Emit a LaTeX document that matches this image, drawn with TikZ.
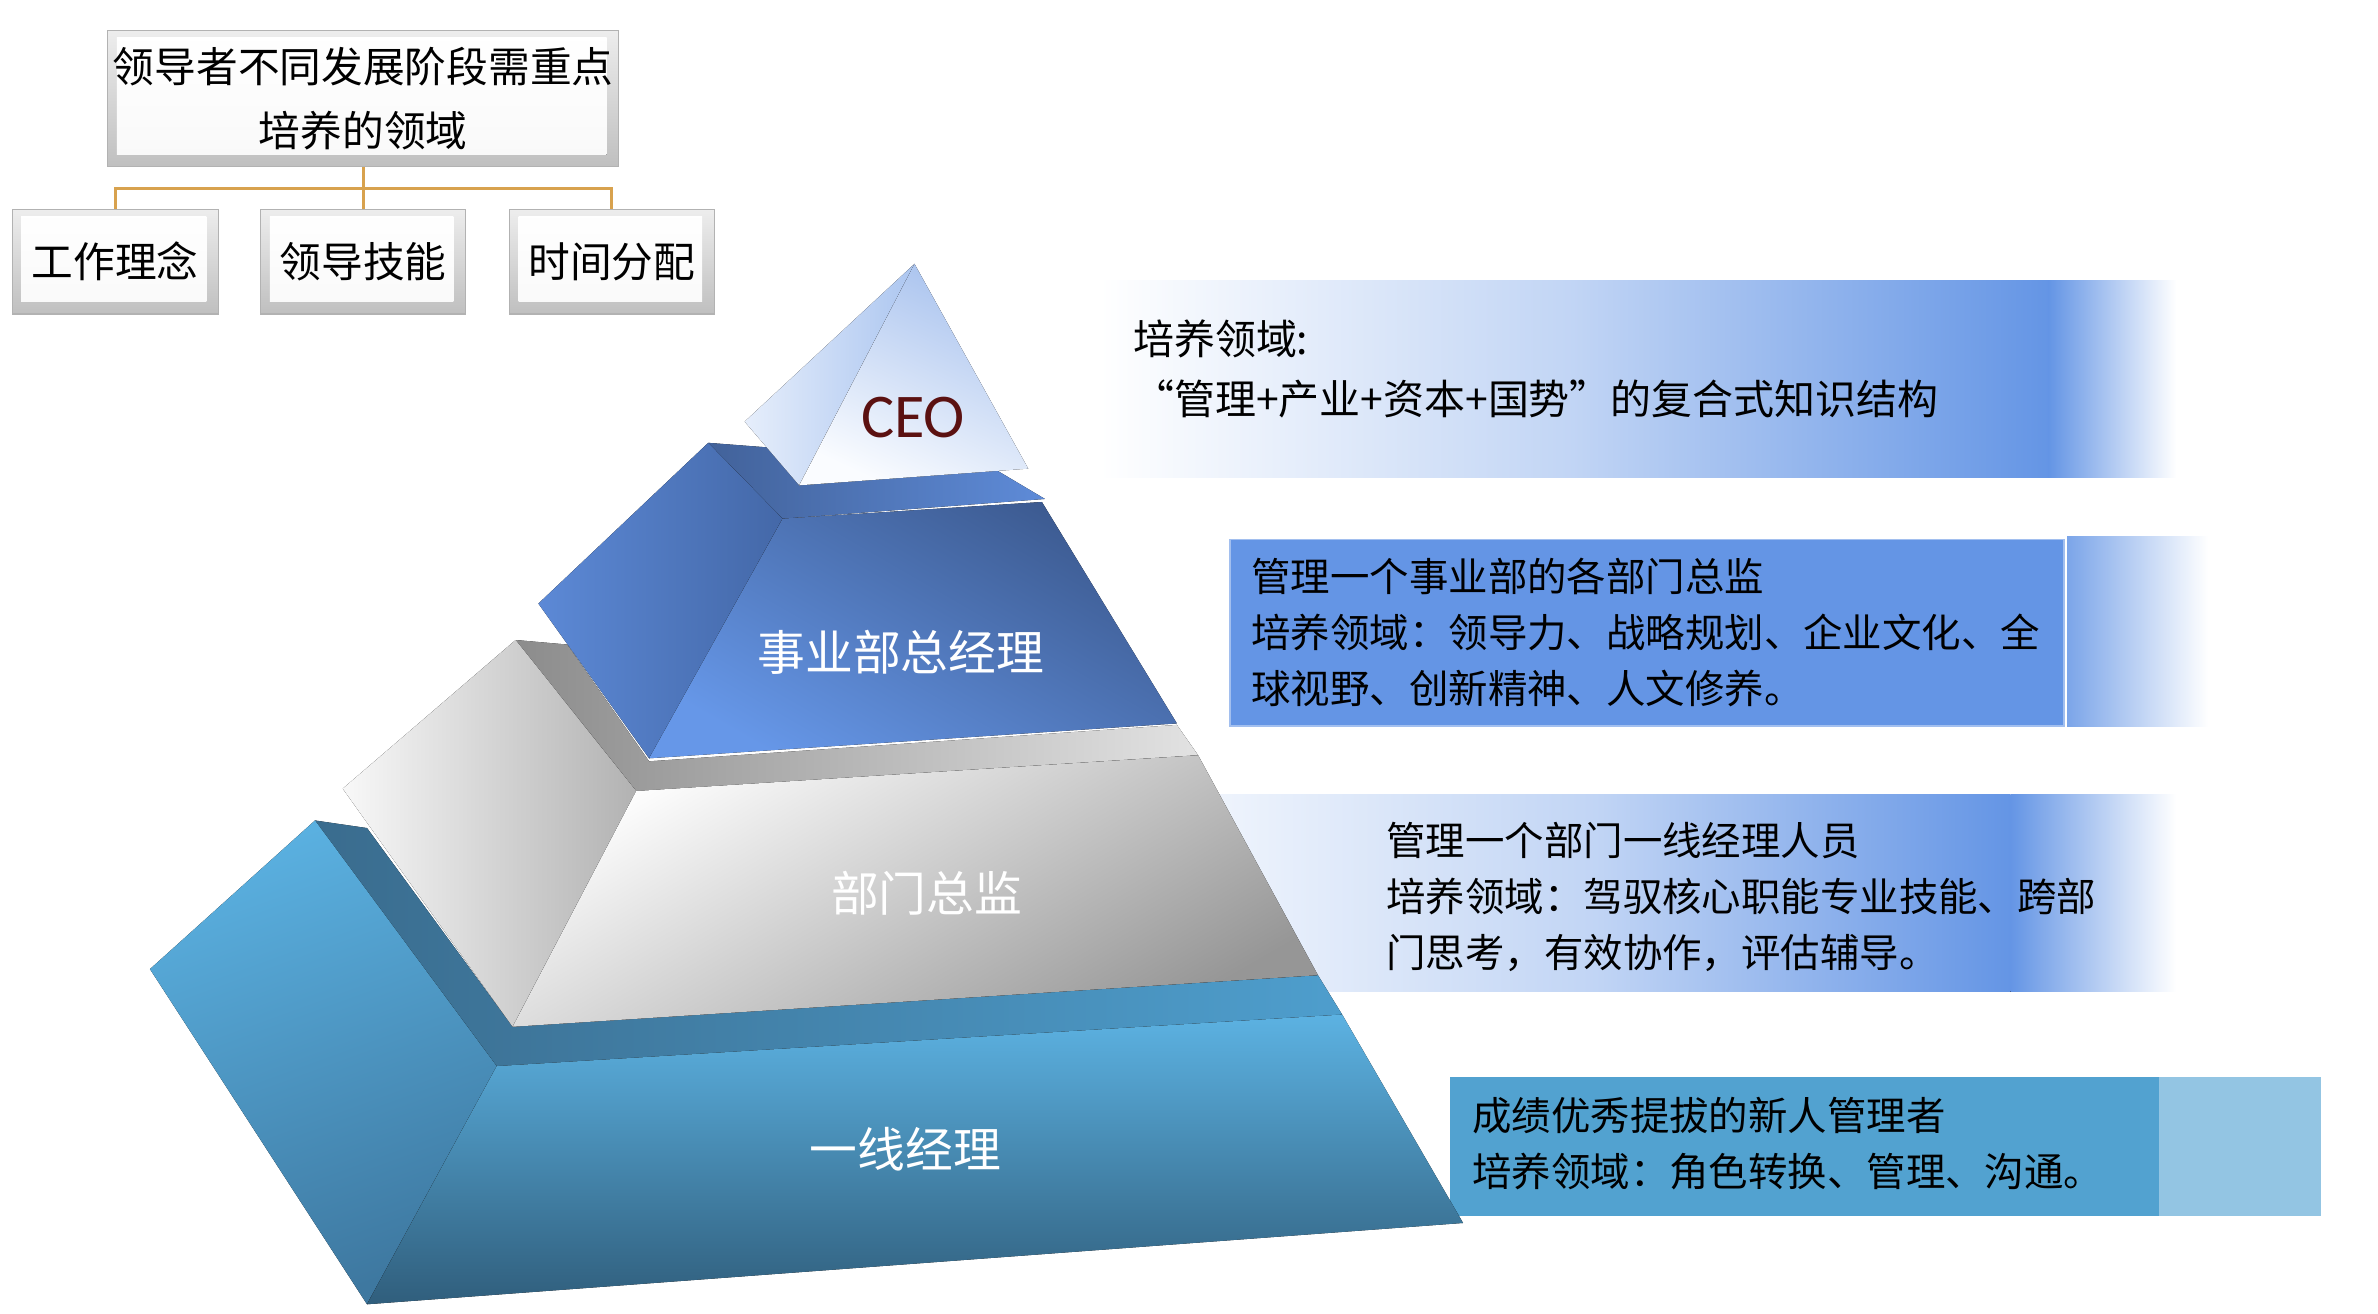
\documentclass[tikz,border=0pt]{standalone}
\usepackage{fontspec}
\setmainfont{Noto Sans CJK SC}
\newfontfamily\ceofont{Carlito}
\usetikzlibrary{calc}
\definecolor{pblue}{HTML}{6495E5}
\definecolor{orgline}{HTML}{D8A24E}
\definecolor{ceored}{HTML}{5B1111}
\definecolor{pfour}{HTML}{52A2D0}
\definecolor{pfourstrip}{HTML}{93C5E3}
\begin{document}
\begin{tikzpicture}[x=1pt,y=-1pt,
  bevel/.style={draw=gray!60, line width=0.8pt, top color=gray!14, bottom color=gray!50, inner sep=0pt,
    path picture={\fill[top color=white, bottom color=gray!5] ([shift={(6pt,-5pt)}]path picture bounding box.north west) rectangle ([shift={(-8pt,8pt)}]path picture bounding box.south east);}},
  orgtxt/.style={font=\fontsize{27.5}{42}\selectfont, text=black},
  link/.style={draw=orgline, line width=2pt},
  tierlabel/.style={font=\fontsize{31.5}{36}\selectfont, text=white},
  paneltxt/.style={align=left, anchor=west, inner sep=0pt, text=black},
]
\useasboundingbox (0,0) rectangle (1568,866.4);

% ---------- org chart ----------
\node[bevel, orgtxt, minimum width=337pt, minimum height=90pt, align=center] (top) at (239.5,65) {领导者不同发展阶段需重点\\培养的领域};
\node[bevel, orgtxt, minimum width=136pt, minimum height=69pt] (c1) at (76,172.5) {工作理念};
\node[bevel, orgtxt, minimum width=135pt, minimum height=69pt] (c2) at (239.5,172.5) {领导技能};
\node[bevel, orgtxt, minimum width=135pt, minimum height=69pt] (c3) at (403.5,172.5) {时间分配};
\coordinate (hub) at ($(top.south)+(0,14)$);
\draw[link] (top.south) -- (c2.north);
\draw[link] (hub) -| (c1.north);
\draw[link] (hub) -| (c3.north);

% ---------- panels ----------
\fill[left color=white, right color=pblue, middle color=pblue!40] (725,185) rectangle (1351,315);
\fill[left color=pblue, right color=white] (1351,185) rectangle (1435,315);
\fill[pblue, draw=pblue!60!white, line width=1pt] (811,355.6) rectangle (1361,478.7);
\fill[left color=pblue!85, right color=white] (1363,354) rectangle (1456,479);
\fill[left color=pblue!8, right color=pblue, middle color=pblue!40] (780,524) rectangle (1325.5,654);
\fill[left color=pblue, right color=white] (1325.5,524) rectangle (1435,654);
\fill[pfour] (956,710) rectangle (1423.6,801.6);
\fill[pfourstrip] (1423.6,710) rectangle (1530.4,801.6);

% ---------- pyramid: tier 4 ----------
\fill[left color={rgb,255:red,58;green,108;blue,142}, right color={rgb,255:red,78;green,158;blue,205}] (207.7,541) -- (242,546) -- (338,677) -- (869,643) -- (885,669) -- (327.5,703) -- cycle;
\fill[left color={rgb,255:red,90;green,176;blue,224}, right color={rgb,255:red,62;green,120;blue,160}, shading angle=20] (207.7,541) -- (98.9,639) -- (242,860) -- (327.5,703) -- cycle;
\fill[top color={rgb,255:red,92;green,178;blue,226}, bottom color={rgb,255:red,48;green,94;blue,124}] (327.5,703) -- (885,669) -- (964.7,806.4) -- (242,860) -- cycle;

% ---------- tier 3 ----------
\fill[left color={rgb,255:red,140;green,140;blue,140}, right color={rgb,255:red,226;green,226;blue,226}] (340,422) -- (374,425) -- (428,502) -- (776,478) -- (790,498) -- (419.5,521.6) -- cycle;
\fill[left color={rgb,255:red,248;green,248;blue,248}, right color={rgb,255:red,178;green,178;blue,178}] (340,422) -- (226,520) -- (338,677) -- (419.5,521.6) -- cycle;
\fill[top color=white, bottom color={rgb,255:red,150;green,150;blue,150}, shading angle=30] (419.5,521.6) -- (790,498) -- (869,643) -- (338,677) -- cycle;

% ---------- tier 2 ----------
\fill[left color={rgb,255:red,66;green,98;blue,154}, right color={rgb,255:red,94;green,139;blue,216}] (467,292) -- (506,295) -- (527,320) -- (657,310) -- (689,329) -- (516,342) -- cycle;
\fill[left color={rgb,255:red,92;green,137;blue,214}, right color={rgb,255:red,68;green,104;blue,168}] (467,292) -- (355,398) -- (428,500) -- (516,342) -- cycle;
\fill[top color={rgb,255:red,60;green,90;blue,144}, bottom color={rgb,255:red,102;green,151;blue,232}, shading angle=-30] (516,342) -- (687,331) -- (776,477) -- (428,500) -- cycle;

% ---------- CEO ----------
\fill[left color={rgb,255:red,230;green,238;blue,251}, right color={rgb,255:red,172;green,198;blue,240}] (603,174) -- (491,278) -- (527,320) -- cycle;
\fill[top color={rgb,255:red,168;green,194;blue,238}, bottom color={rgb,255:red,250;green,252;blue,255}, shading angle=-25] (603,174) -- (527,320) -- (678,309) -- cycle;

% ---------- labels ----------
\node[font=\ceofont\fontsize{41}{44}\selectfont, text=ceored] (ceo) at (602,275) {CEO};
\node[tierlabel] (t2) at (594,430) {事业部总经理};
\node[tierlabel] (t3) at (611,589) {部门总监};
\node[tierlabel] (t4) at (597,758) {一线经理};

\node[paneltxt, font=\fontsize{27}{39.5}\selectfont] (p1) at (747,243) {培养领域:\\“管理+产业+资本+国势”的复合式知识结构};
\node[paneltxt, font=\fontsize{26}{37}\selectfont] (p2) at (825,417) {管理一个事业部的各部门总监\\培养领域：领导力、战略规划、企业文化、全\\球视野、创新精神、人文修养。};
\node[paneltxt, font=\fontsize{26}{37}\selectfont] (p3) at (914,591.5) {管理一个部门一线经理人员\\培养领域：驾驭核心职能专业技能、跨部\\门思考，有效协作，评估辅导。};
\node[paneltxt, font=\fontsize{26}{37}\selectfont] (p4) at (970.6,754) {成绩优秀提拔的新人管理者\\培养领域：角色转换、管理、沟通。};
\end{tikzpicture}
\end{document}
